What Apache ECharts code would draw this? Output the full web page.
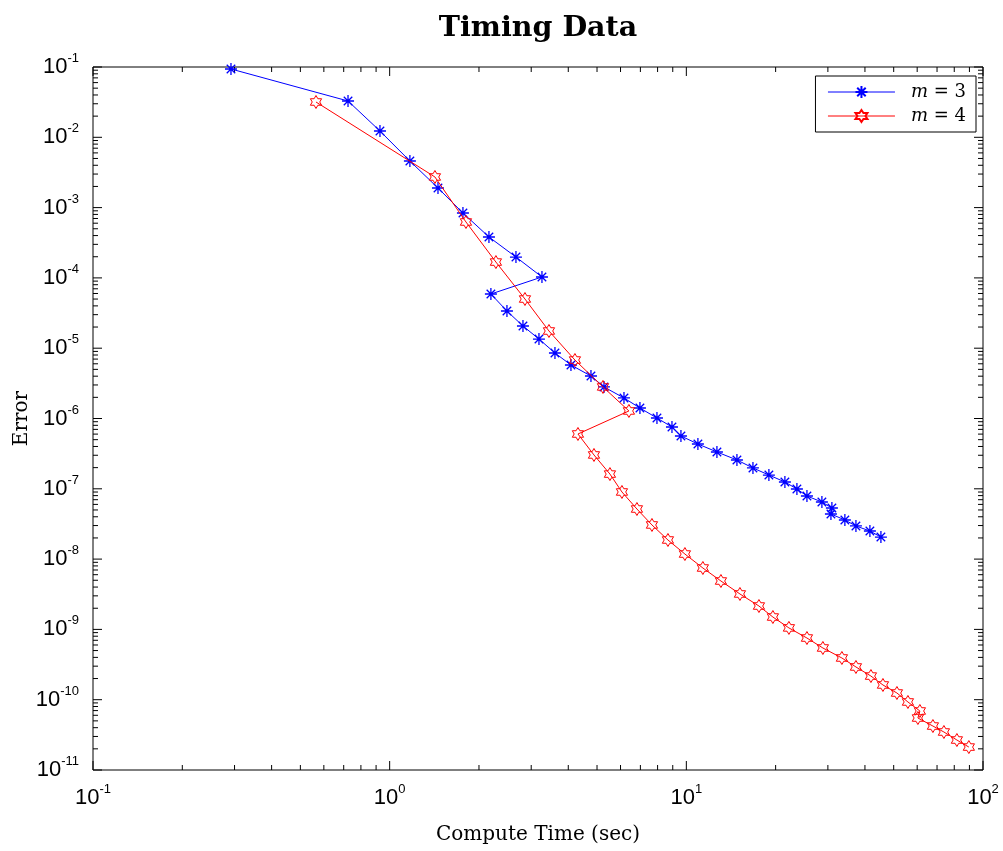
<!DOCTYPE html>
<html>
<head>
<meta charset="utf-8">
<script src="https://cdn.jsdelivr.net/npm/echarts@6/dist/echarts.min.js"></script>
<style>html,body{margin:0;padding:0;background:#fff}#c{width:1003px;height:851px}</style>
</head>
<body>
<div id="c"></div>
<script>
// ---- data ----
const seriesNames = ['m = 3', 'm = 4'];
const blueX = [0.2918, 0.7238, 0.9275, 1.170, 1.455, 1.766, 2.161, 2.665, 3.261, 2.194, 2.485, 2.814, 3.186, 3.607, 4.084, 4.770, 5.277, 6.163, 6.976, 7.961, 8.945, 9.59, 10.94, 12.68, 14.81, 16.77, 18.98, 21.49, 23.59, 25.50, 28.64, 30.95, 30.72, 34.23, 37.30, 41.57, 45.28];
const blueY = [0.0937, 0.03284, 0.01229, 0.0046, 0.0019, 8.38e-4, 3.82e-4, 1.98e-4, 1.03e-4, 5.90e-5, 3.38e-5, 2.07e-5, 1.35e-5, 8.55e-6, 5.77e-6, 4.02e-6, 2.81e-6, 1.96e-6, 1.41e-6, 1.016e-6, 7.57e-7, 5.64e-7, 4.34e-7, 3.34e-7, 2.57e-7, 1.98e-7, 1.57e-7, 1.25e-7, 9.94e-8, 7.90e-8, 6.49e-8, 5.33e-8, 4.38e-8, 3.60e-8, 2.96e-8, 2.51e-8, 2.06e-8];
const redX = [0.5645, 1.421, 1.808, 2.281, 2.858, 3.443, 4.212, 5.236, 6.404, 4.312, 4.883, 5.527, 6.067, 6.815, 7.658, 8.670, 9.89, 11.37, 13.08, 15.16, 17.57, 19.58, 22.17, 25.50, 28.86, 33.45, 37.30, 41.90, 46.0, 51.27, 55.84, 61.27, 60.33, 67.79, 73.83, 81.66, 89.6];
const redY = [0.03178, 0.002725, 6.24e-4, 1.68e-4, 5.01e-5, 1.757e-5, 6.79e-6, 2.81e-6, 1.28e-6, 6.02e-7, 3.03e-7, 1.62e-7, 9.01e-8, 5.16e-8, 3.06e-8, 1.87e-8, 1.18e-8, 7.47e-9, 4.88e-9, 3.19e-9, 2.15e-9, 1.50e-9, 1.05e-9, 7.54e-10, 5.44e-10, 3.92e-10, 2.92e-10, 2.17e-10, 1.62e-10, 1.245e-10, 9.28e-11, 6.91e-11, 5.49e-11, 4.22e-11, 3.47e-11, 2.67e-11, 2.12e-11];
// axis decades (tick labels are 10^k for these)
const xDecades = [0.1, 1, 10, 100];
const yDecades = [1e-11, 1e-10, 1e-9, 1e-8, 1e-7, 1e-6, 1e-5, 1e-4, 1e-3, 1e-2, 1e-1];
const minorMultipliers = [2, 3, 4, 5, 6, 7, 8, 9];

const X_MIN = 0.1, X_MAX = 100, Y_MIN = 1e-11, Y_MAX = 1e-1;
const MAJOR_LEN = 9, MINOR_LEN = 5;

function pairs(xs, ys) { return xs.map((x, i) => [x, ys[i]]); }

// tick marks data: [x, y, kind(0=x tick,1=y tick), length]
const tickData = [];
xDecades.forEach((d, i) => {
  tickData.push([d, Y_MIN, 0, MAJOR_LEN]);
  if (i < xDecades.length - 1) minorMultipliers.forEach(m => tickData.push([d * m, Y_MIN, 0, MINOR_LEN]));
});
yDecades.forEach((d, i) => {
  tickData.push([X_MIN, d, 1, MAJOR_LEN]);
  if (i < yDecades.length - 1) minorMultipliers.forEach(m => tickData.push([X_MIN, d * m, 1, MINOR_LEN]));
});

const asterisk = 'path://M0,-10L0,10M-10,0L10,0M-7.07,-7.07L7.07,7.07M-7.07,7.07L7.07,-7.07';
const hexagram = 'path://M0,-10L2.887,-5L8.66,-5L5.774,0L8.66,5L2.887,5L0,10L-2.887,5L-8.66,5L-5.774,0L-8.66,-5L-2.887,-5Z';

const tickFont = '"Liberation Sans", Arial, sans-serif';
const serif = '"DejaVu Serif", serif';
function expLabel(v) {
  const e = Math.round(Math.log10(v));
  return '{b|10}{s|' + e + '}';
}
const labelRich = {
  b: { fontSize: 22, fontFamily: tickFont, color: '#000', lineHeight: 30 },
  s: { fontSize: 13, fontFamily: tickFont, color: '#000', lineHeight: 13, verticalAlign: 'top' }
};

const chart = echarts.init(document.getElementById('c'), null, { renderer: 'canvas' });
chart.setOption({
  animation: false,
  backgroundColor: '#fff',
  title: {
    text: 'Timing Data',
    left: 538, textAlign: 'center', top: 14, padding: 0,
    textStyle: { fontFamily: serif, fontWeight: 'bold', fontSize: 28.5, color: '#000' }
  },
  grid: {
    left: 93, right: 20, top: 67, bottom: 81,
    containLabel: false, outerBoundsMode: 'none',
    show: true, borderColor: '#000', borderWidth: 1, backgroundColor: 'transparent'
  },
  legend: {
    data: seriesNames,
    orient: 'vertical',
    right: 27, top: 76,
    padding: [7, 10, 7, 12],
    itemGap: 6,
    itemWidth: 67, itemHeight: 15,
    borderColor: '#000', borderWidth: 1, borderRadius: 0,
    backgroundColor: '#fff',
    lineStyle: { width: 1 },
    formatter: function (name) { return '{i|m}{n| = ' + name.slice(-1) + '}'; },
    textStyle: {
      color: '#000',
      rich: {
        i: { fontFamily: serif, fontStyle: 'italic', fontSize: 18, lineHeight: 18, color: '#000', padding: [0, 0, 0, 11] },
        n: { fontFamily: serif, fontSize: 18, lineHeight: 18, color: '#000' }
      }
    }
  },
  xAxis: {
    type: 'log', logBase: 10, min: X_MIN, max: X_MAX, interval: 1,
    name: 'Compute Time (sec)', nameLocation: 'middle', nameGap: 55, nameMoveOverlap: false,
    nameTextStyle: { fontFamily: serif, fontSize: 20, color: '#000' },
    axisLine: { show: false }, axisTick: { show: false }, splitLine: { show: false }, minorTick: { show: false },
    axisLabel: { margin: 13, formatter: expLabel, rich: labelRich, showMinLabel: true, showMaxLabel: true }
  },
  yAxis: {
    type: 'log', logBase: 10, min: Y_MIN, max: Y_MAX, interval: 1,
    name: 'Error', nameLocation: 'middle', nameGap: 61, nameRotate: 90, nameMoveOverlap: false,
    nameTextStyle: { fontFamily: serif, fontSize: 20, color: '#000' },
    axisLine: { show: false }, axisTick: { show: false }, splitLine: { show: false }, minorTick: { show: false },
    axisLabel: { margin: 14, formatter: expLabel, rich: labelRich, showMinLabel: true, showMaxLabel: true }
  },
  series: [
    {
      type: 'custom', name: 'ticks', silent: true, clip: false, z: 1,
      encode: { x: 0, y: 1 },
      data: tickData,
      renderItem: function (params, api) {
        const kind = api.value(2), len = api.value(3);
        const st = { stroke: '#000', lineWidth: 1 };
        if (kind === 0) {
          const v = api.value(0);
          const b = api.coord([v, Y_MIN]), t = api.coord([v, Y_MAX]);
          return { type: 'group', children: [
            { type: 'line', shape: { x1: b[0], y1: b[1], x2: b[0], y2: b[1] - len }, style: st },
            { type: 'line', shape: { x1: t[0], y1: t[1], x2: t[0], y2: t[1] + len }, style: st }
          ] };
        } else {
          const v = api.value(1);
          const l = api.coord([X_MIN, v]), r = api.coord([X_MAX, v]);
          return { type: 'group', children: [
            { type: 'line', shape: { x1: l[0], y1: l[1], x2: l[0] + len, y2: l[1] }, style: st },
            { type: 'line', shape: { x1: r[0], y1: r[1], x2: r[0] - len, y2: r[1] }, style: st }
          ] };
        }
      }
    },
    {
      type: 'line', name: seriesNames[0], data: pairs(blueX, blueY),
      symbol: asterisk, symbolSize: 12, showAllSymbol: true, z: 3,
      lineStyle: { color: '#0000ff', width: 1 },
      itemStyle: { color: 'rgba(0,0,0,0)', borderColor: '#0000ff', borderWidth: 1.3 }
    },
    {
      type: 'line', name: seriesNames[1], data: pairs(redX, redY),
      symbol: hexagram, symbolSize: 13, symbolKeepAspect: true, showAllSymbol: true, z: 4,
      lineStyle: { color: '#ff0000', width: 1 },
      itemStyle: { color: 'rgba(0,0,0,0)', borderColor: '#ff0000', borderWidth: 1 }
    }
  ]
});
</script>
</body>
</html>
